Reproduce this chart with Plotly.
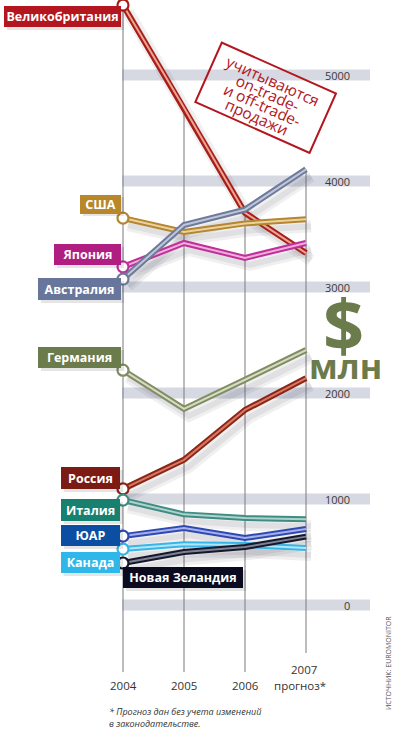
import math
import plotly.graph_objects as go

# ---------------- data ----------------
years = [2004, 2005, 2006, 2007]
year_labels = ["2004", "2005", "2006", "2007"]
forecast_label = "прогноз*"
tick_values = [0, 1000, 2000, 3000, 4000, 5000]
tick_labels = ["0", "1000", "2000", "3000", "4000", "5000"]

countries = ["Великобритания", "США", "Япония", "Австралия", "Германия",
             "Россия", "Италия", "ЮАР", "Канада", "Новая Зеландия"]
uk = [5660, 4690, 3700, 3320]
usa = [3650, 3520, 3600, 3640]
japan = [3190, 3415, 3275, 3415]
australia = [3075, 3585, 3730, 4110]
germany = [2215, 1850, 2125, 2405]
russia = [1095, 1370, 1840, 2140]
italy = [990, 855, 820, 810]
sar = [650, 726, 632, 717]
canada = [528, 572, 566, 538]
new_zealand = [396, 500, 547, 645]
series = [uk, usa, japan, australia, germany, russia, italy, sar, canada, new_zealand]

stamp_lines = ["учитываются", "on-trade-", "и off-trade-", "продажи"]
footnote = "* Прогноз дан без учета изменений<br>в законодательстве."
source = "ИСТОЧНИК: EUROMONITOR"

# ---------------- geometry / style ----------------
W, H = 396, 742
X0_PX, STEP = 123, 61          # pixel of 2004 and px per year
Y0_PX, K = 605, 0.106          # pixel of value 0, px per unit
SHX, SHY = 5, 7                # shadow offset in px

def pxx(x):
    return x / W

def pxy(y):
    return 1 - y / H

def val_of_py(y):
    return (Y0_PX - y) / K

xr = [years[0] - X0_PX / STEP, years[0] + (W - X0_PX) / STEP]
yr = [(Y0_PX - H) / K, Y0_PX / K]

# (box colour, dark outline, light inner)
styles = [
    ("#b3161e", "#a91d19", "#eba592"),
    ("#b8862b", "#b48630", "#ebd29c"),
    ("#b01e82", "#c0309a", "#f2aedb"),
    ("#67769a", "#6d7a98", "#bfc6dc"),
    ("#6b7b4b", "#808d62", "#d6dcc4"),
    ("#7b1b14", "#8c2418", "#d57a62"),
    ("#17806f", "#3f8d82", "#afd3cc"),
    ("#0b4ea2", "#2e4ab2", "#a7afec"),
    ("#2fb7ea", "#38b5e6", "#b0e6f9"),
    ("#0b0b1f", "#15182a", "#7d8394"),
]

# label boxes: (anchor x px, side, centre y px, width, height)
label_boxes = [
    (121, "right", 16.5, 117, 21),
    (121, "right", 204, 41, 19),
    (121, "right", 254.5, 67, 21),
    (121, "right", 289, 83, 22),
    (121, "right", 357.5, 83, 21),
    (120, "right", 478, 59, 22),
    (120, "right", 510, 59, 22),
    (120, "right", 535, 59, 21),
    (120, "right", 562.5, 59, 21),
    (123, "left", 577.5, 120, 21),
]

fig = go.Figure()

# shadows (base axes shifted by a few pixels)
for s in series:
    fig.add_trace(go.Scatter(x=years, y=s, mode="lines", xaxis="x", yaxis="y",
                             line=dict(color="rgba(40,40,60,0.07)", width=12),
                             hoverinfo="skip", showlegend=False))
    fig.add_trace(go.Scatter(x=years, y=s, mode="lines", xaxis="x", yaxis="y",
                             line=dict(color="rgba(40,40,60,0.08)", width=6),
                             hoverinfo="skip", showlegend=False))

# main lines (overlay axes, true mapping)
for name, s, (box, dark, light) in zip(countries, series, styles):
    fig.add_trace(go.Scatter(x=years, y=s, mode="lines", xaxis="x2", yaxis="y2",
                             line=dict(color=dark, width=6), name=name,
                             showlegend=False, cliponaxis=False))
    fig.add_trace(go.Scatter(x=years, y=s, mode="lines", xaxis="x2", yaxis="y2",
                             line=dict(color=light, width=2), hoverinfo="skip",
                             showlegend=False, cliponaxis=False))
for name, s, (box, dark, light) in zip(countries, series, styles):
    fig.add_trace(go.Scatter(x=years[:1], y=s[:1], mode="markers", xaxis="x2", yaxis="y2",
                             marker=dict(size=11, color="white", line=dict(color=dark, width=2.2)),
                             hoverinfo="skip", showlegend=False, cliponaxis=False))

shapes = []
# grey bands behind gridline values
for t in tick_values:
    shapes.append(dict(type="rect", xref="paper", yref="y2", x0=pxx(122), x1=pxx(370),
                       y0=t - 52, y1=t + 52, fillcolor="#d6d9e2", line=dict(width=0),
                       layer="below"))
# vertical year lines, from the highest point of the year down
bottoms = [672, 672, 672, 653]
for i, yv in enumerate(years):
    top = max(s[i] for s in series)
    shapes.append(dict(type="line", xref="x2", yref="y2", x0=yv, x1=yv,
                       y0=top, y1=val_of_py(bottoms[i]),
                       line=dict(color="#7a7a80", width=1), layer="below"))

annotations = []
# tick labels
for t, lab in zip(tick_values, tick_labels):
    annotations.append(dict(xref="paper", yref="y2", x=pxx(352), y=t, text=lab,
                            xanchor="right", yanchor="middle", showarrow=False,
                            font=dict(family="Open Sans", size=11, color="#3a3a3a")))
# year labels
for i, (yv, lab) in enumerate(zip(years, year_labels)):
    ycen = 669 if i == len(years) - 1 else 685
    annotations.append(dict(xref="x2", yref="paper", x=yv, y=pxy(ycen), text=lab,
                            xanchor="center", yanchor="middle", showarrow=False, xshift=-2 if i == 3 else 0,
                            font=dict(family="Open Sans", size=11.5, color="#333333")))
annotations.append(dict(xref="x2", yref="paper", x=years[-1], y=pxy(685), text=forecast_label,
                        xanchor="center", yanchor="middle", showarrow=False, xshift=-6,
                        font=dict(family="Open Sans", size=11.5, color="#333333")))
# country labels
for name, (box, dark, light), (ax, side, cy, bw, bh) in zip(countries, styles, label_boxes):
    annotations.append(dict(xref="paper", yref="paper", x=pxx(ax + 3), y=pxy(cy + 3), text=" ",
                            xanchor=side, yanchor="middle", showarrow=False,
                            width=bw, height=bh, bgcolor="rgba(0,0,0,0.10)",
                            borderpad=0, borderwidth=0))
    annotations.append(dict(xref="paper", yref="paper", x=pxx(ax), y=pxy(cy), text="<b>" + name + "</b>",
                            xanchor=side, yanchor="middle", showarrow=False,
                            width=bw, height=bh, bgcolor=box, borderpad=0, borderwidth=0,
                            font=dict(family="Open Sans", size=12.5, color="white")))
# stamp
ang = 24
cx, cy = 265, 98
annotations.append(dict(xref="paper", yref="paper", x=pxx(cx), y=pxy(cy), text=" ",
                        xanchor="center", yanchor="middle", showarrow=False, textangle=ang,
                        width=123, height=63, bordercolor="#b3161e", borderwidth=2,
                        borderpad=0, bgcolor="rgba(255,255,255,0)"))
sp = 13.4
dxp, dyp = -math.sin(math.radians(ang)), math.cos(math.radians(ang))
for j, line in enumerate(stamp_lines):
    off = (j - 1.5) * sp
    annotations.append(dict(xref="paper", yref="paper", x=pxx(cx + dxp * off), y=pxy(cy + 1 + dyp * off),
                            text=line, xanchor="center", yanchor="middle", showarrow=False,
                            textangle=ang,
                            font=dict(family="Open Sans", size=15.5, color="#b3161e")))
# $ млн
annotations.append(dict(xref="paper", yref="paper", x=pxx(343), y=pxy(324), text="<b>$</b>",
                        xanchor="center", yanchor="middle", showarrow=False,
                        font=dict(family="Open Sans", size=72, color="#6b7b4b")))
annotations.append(dict(xref="paper", yref="paper", x=pxx(345), y=pxy(366), text="<b>млн</b>",
                        xanchor="center", yanchor="middle", showarrow=False,
                        font=dict(family="Open Sans", size=34, color="#6b7b4b")))
# footnote
annotations.append(dict(xref="paper", yref="paper", x=pxx(107), y=pxy(703), text="<i>" + footnote + "</i>",
                        xanchor="left", yanchor="top", align="left", showarrow=False,
                        font=dict(family="Open Sans", size=9, color="#333333")))
# source
annotations.append(dict(xref="paper", yref="paper", x=pxx(388), y=pxy(663), text=source,
                        xanchor="center", yanchor="middle", textangle=-90, showarrow=False,
                        font=dict(family="Open Sans", size=7, color="#555555")))

fig.update_layout(
    width=W, height=H, margin=dict(l=0, r=0, t=0, b=0),
    paper_bgcolor="white", plot_bgcolor="rgba(0,0,0,0)",
    showlegend=False,
    xaxis=dict(range=[xr[0] - SHX / STEP, xr[1] - SHX / STEP], visible=False, fixedrange=True),
    yaxis=dict(range=[yr[0] + SHY / K, yr[1] + SHY / K], visible=False, fixedrange=True),
    xaxis2=dict(range=xr, overlaying="x", visible=False, fixedrange=True),
    yaxis2=dict(range=yr, overlaying="y", visible=False, fixedrange=True),
    shapes=shapes, annotations=annotations,
)

fig.write_html("out.html", config={"displayModeBar": False},
               post_script="document.body.style.margin='0';document.body.style.overflow='hidden';")
